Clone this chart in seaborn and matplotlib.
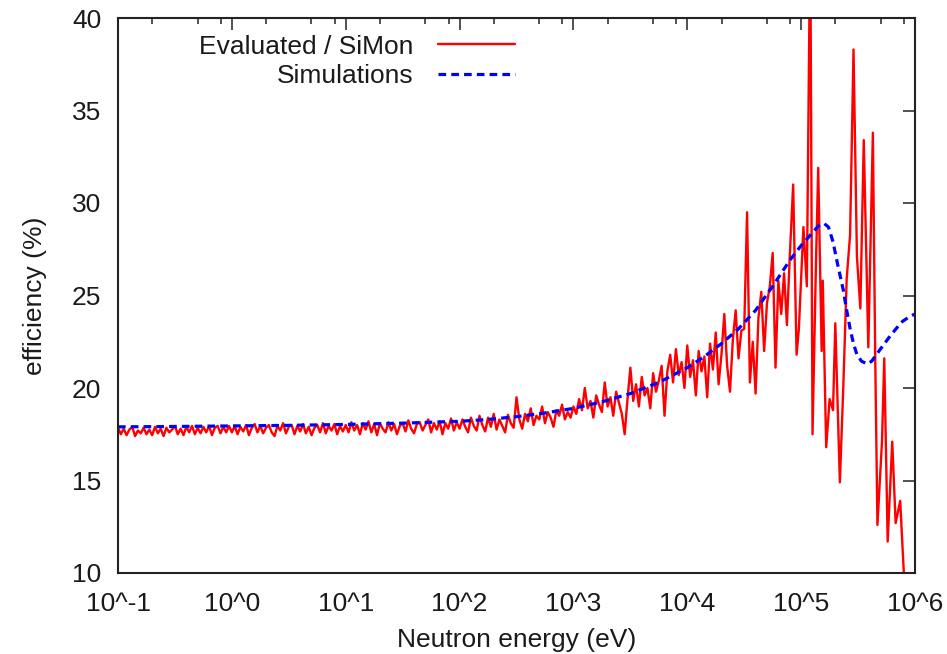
import numpy as np
import pandas as pd
import matplotlib
matplotlib.use("Agg")
import matplotlib.pyplot as plt
import seaborn as sns
from matplotlib.ticker import LogLocator, NullFormatter

# ---------------- data ----------------
# Evaluated / SiMon : dense part on a regular log10(E) grid from -1 to 4.875
red_dense_eff = [
    # log10 E = -1.0 .. -0.025
    17.85, 17.5, 17.8, 17.45, 17.75, 17.9, 17.4, 17.7, 17.55, 17.85,
    17.5, 17.75, 17.45, 17.9, 17.55, 17.8, 17.4, 17.85, 17.6, 17.75,
    17.95, 17.5, 17.8, 17.45, 17.9, 17.6, 17.95, 17.5, 17.85, 17.55,
    17.9, 17.6, 17.95, 17.45, 17.85, 17.95, 17.55, 17.9, 17.6, 17.95,
    # 0.0 .. 0.975
    17.6, 17.95, 17.5, 17.9, 17.65, 18.0, 17.45, 17.85, 18.05, 17.6,
    17.95, 17.55, 17.85, 18.0, 17.6, 17.4, 17.95, 17.7, 18.1, 17.55,
    17.9, 18.0, 17.5, 17.95, 17.65, 18.05, 17.55, 17.9, 17.45, 17.85,
    18.0, 17.6, 18.1, 17.55, 17.95, 17.7, 18.05, 17.5, 17.95, 17.65,
    # 1.0 .. 1.975
    18.0, 17.6, 18.15, 17.7, 18.0, 17.5, 18.1, 17.75, 18.2, 17.6,
    18.05, 17.45, 18.1, 17.8, 17.6, 18.15, 17.7, 18.05, 17.5, 17.95,
    18.1, 17.65, 18.25, 17.8, 17.55, 18.05, 18.15, 17.7, 18.0, 18.3,
    17.6, 18.1, 17.75, 18.2, 17.5, 18.1, 17.8, 18.35, 17.7, 18.15,
    # 2.0 .. 2.475
    17.8, 18.3, 17.9, 17.6, 18.4, 17.95, 17.7, 18.5, 18.0, 17.65,
    18.4, 17.9, 18.6, 17.75, 18.3, 17.95, 17.6, 18.55, 18.1, 17.85,
    # 2.5 .. 2.975
    19.5, 18.3, 17.8, 18.6, 18.2, 18.9, 18.0, 18.5, 18.3, 19.0,
    18.1, 18.7, 18.4, 17.9, 18.8, 18.5, 19.1, 18.3, 18.7, 18.4,
    # 3.0 .. 3.475
    19.0, 18.6, 19.4, 18.8, 20.0, 18.9, 19.3, 18.4, 19.6, 19.1,
    18.7, 20.3, 19.0, 19.5, 18.5, 19.8, 19.2, 18.6, 17.5, 19.4,
    # 3.5 .. 3.975
    21.1, 19.3, 20.2, 19.0, 20.6, 19.6, 20.0, 18.9, 20.8, 19.8,
    20.4, 21.2, 18.5, 20.9, 21.8, 20.3, 22.1, 20.7, 21.4, 20.0,
    # 4.0 .. 4.475
    22.3, 20.6, 21.5, 19.6, 22.0, 20.9, 21.7, 19.5, 22.4, 21.0,
    23.0, 20.2, 21.8, 24.0, 21.2, 19.8, 22.6, 24.2, 21.6, 23.1,
    # 4.5 .. 4.875
    23.2, 29.5, 20.3, 22.5, 19.7, 23.8, 25.2, 22.0, 24.6, 25.5,
    27.3, 21.1, 25.8, 24.0, 26.2, 23.4,
]
red_dense_logE_start = -1.0
red_dense_logE_stop = 4.875

# Evaluated / SiMon : sparse high-energy part (log10 E, efficiency)
red_tail_logE = [4.90, 4.93, 4.96, 4.98, 5.02, 5.05, 5.08, 5.10, 5.13, 5.15,
                 5.18, 5.19, 5.22, 5.25, 5.28, 5.30, 5.34, 5.37, 5.40, 5.43,
                 5.46, 5.49, 5.52, 5.55, 5.59, 5.63, 5.65, 5.67, 5.71, 5.73,
                 5.76, 5.80, 5.83, 5.87, 5.91]
red_tail_eff = [27.1, 31.0, 21.8, 23.2, 28.7, 25.5, 45.0, 17.5, 26.7, 31.9,
                22.0, 25.8, 16.8, 19.4, 18.8, 23.5, 14.9, 20.0, 25.9, 28.3,
                38.3, 27.1, 24.3, 33.4, 22.2, 33.8, 22.0, 12.6, 17.1, 21.6,
                11.7, 17.1, 12.7, 13.9, 9.0]

# Simulations (log10 E, efficiency)
sim_logE = [-1.0, -0.5, 0.0, 0.5, 1.0, 1.5, 2.0, 2.25, 2.5, 2.75, 3.0, 3.25,
            3.5, 3.75, 4.0, 4.15, 4.3, 4.45, 4.6, 4.75, 4.9, 5.0, 5.1, 5.15,
            5.2, 5.24, 5.28, 5.32, 5.37, 5.4, 5.43, 5.46, 5.49, 5.53, 5.58,
            5.62, 5.66, 5.72, 5.78, 5.84, 5.89, 5.95, 6.0]
sim_eff = [17.9, 17.92, 17.95, 17.98, 18.03, 18.1, 18.2, 18.3, 18.45, 18.65,
           18.9, 19.25, 19.7, 20.3, 21.1, 21.7, 22.4, 23.2, 24.2, 25.5, 26.9,
           27.7, 28.4, 28.75, 28.9, 28.7, 27.9, 26.7, 25.3, 24.2, 23.2, 22.4,
           21.8, 21.45, 21.3, 21.45, 21.8, 22.3, 22.8, 23.25, 23.6, 23.85, 24.0]

series_labels = ["Evaluated / SiMon", "Simulations"]
xtick_exponents = [-1, 0, 1, 2, 3, 4, 5, 6]
xtick_labels = ["10^-1", "10^0", "10^1", "10^2", "10^3", "10^4", "10^5", "10^6"]
yticks = [10, 15, 20, 25, 30, 35, 40]

# ---------------- tables ----------------
red_dense_logE = np.linspace(red_dense_logE_start, red_dense_logE_stop, len(red_dense_eff))
red_logE = np.concatenate([red_dense_logE, np.array(red_tail_logE)])
red_eff = np.concatenate([np.array(red_dense_eff), np.array(red_tail_eff)])
df_red = pd.DataFrame({"E": 10.0 ** red_logE, "eff": red_eff})
df_sim = pd.DataFrame({"E": 10.0 ** np.array(sim_logE), "eff": sim_eff})

# ---------------- style ----------------
sns.set_theme(style="white")
plt.rcParams["font.family"] = ["Liberation Sans", "DejaVu Sans"]
FS = 19

fig = plt.figure(figsize=(9.47, 6.54), dpi=100)
ax = fig.add_axes([118 / 947, 1 - 573 / 654, (915 - 118) / 947, (573 - 18) / 654])
ax.set_xscale("log")

sns.lineplot(data=df_red, x="E", y="eff", ax=ax, color="#ff0000", lw=1.7,
             sort=False, estimator=None, label=series_labels[0])
sns.lineplot(data=df_sim, x="E", y="eff", ax=ax, color="#0000ff", lw=2.3,
             linestyle=(0, (2.4, 1.6)), sort=False, estimator=None,
             label=series_labels[1])

ax.set_xlim(0.1, 1e6)
ax.set_ylim(10, 40)
ax.set_xticks([10.0 ** e for e in xtick_exponents])
ax.set_xticklabels(xtick_labels)
ax.xaxis.set_minor_locator(LogLocator(base=10, subs=[2, 5, 8], numticks=20))
ax.xaxis.set_minor_formatter(NullFormatter())
ax.set_yticks(yticks)
ax.set_yticklabels([str(v) for v in yticks])

ax.tick_params(which="both", direction="in", top=True, right=True,
               colors="#222222", labelcolor="#1a1a1a", labelsize=FS)
ax.tick_params(which="major", length=8.5, width=1.1)
ax.tick_params(axis="x", which="major", pad=14)
ax.tick_params(axis="y", which="major", pad=12)
ax.tick_params(which="minor", length=4.5, width=1.1)
for s in ax.spines.values():
    s.set_color("#222222")
    s.set_linewidth(1.5)

ax.set_xlabel("Neutron energy (eV)", fontsize=FS, color="#1a1a1a", labelpad=8)
ax.set_ylabel("efficiency (%)", fontsize=FS, color="#1a1a1a", labelpad=18)

leg = ax.legend(loc="upper right", bbox_to_anchor=(0.498, 0.97), frameon=False,
                markerfirst=False, handlelength=2.9, handletextpad=0.95,
                borderpad=0, borderaxespad=0, labelspacing=0.22, fontsize=FS)
for col in leg._legend_handle_box.get_children():
    col.align = "right"
for t in leg.get_texts():
    t.set_color("#1a1a1a")

fig.savefig("out.png", dpi=100)
